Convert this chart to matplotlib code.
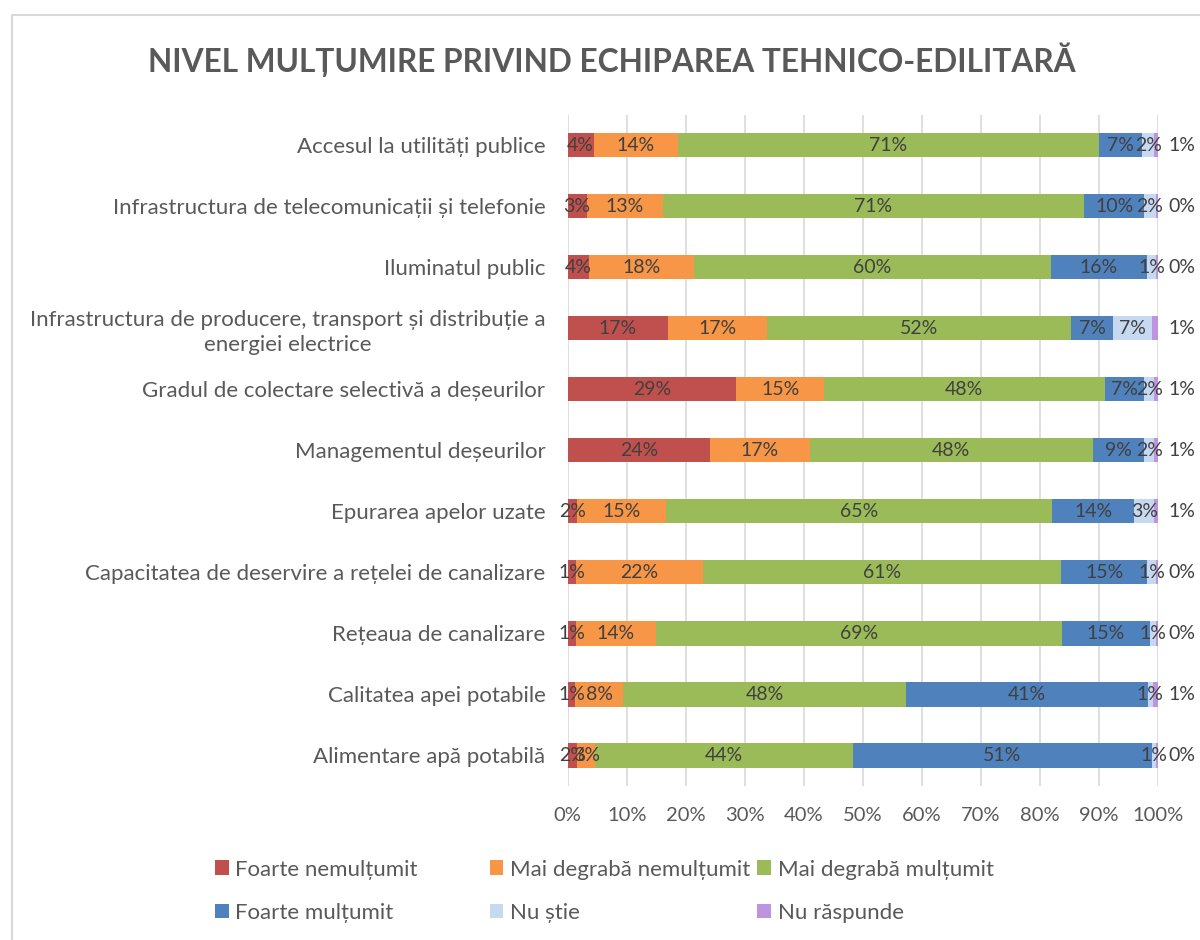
import numpy as np
import matplotlib
matplotlib.use("Agg")
import matplotlib.pyplot as plt
from matplotlib.patches import Rectangle

plt.rcParams["font.family"] = ["Lato", "Noto Sans", "DejaVu Sans"]

# ───────── date ─────────
categorii = [
    "Accesul la utilități publice",
    "Infrastructura de telecomunicații și telefonie",
    "Iluminatul public",
    "Infrastructura de producere, transport și distribuție a\nenergiei electrice",
    "Gradul de colectare selectivă a deșeurilor",
    "Managementul deșeurilor",
    "Epurarea apelor uzate",
    "Capacitatea de deservire a rețelei de canalizare",
    "Rețeaua de canalizare",
    "Calitatea apei potabile",
    "Alimentare apă potabilă",
]
serii = [
    "Foarte nemulțumit",
    "Mai degrabă nemulțumit",
    "Mai degrabă mulțumit",
    "Foarte mulțumit",
    "Nu știe",
    "Nu răspunde",
]
foarte_nemultumit = [4.4, 3.2, 3.7, 17.0, 28.6, 24.1, 1.6, 1.4, 1.4, 1.3, 1.6]
degraba_nemultumit = [14.3, 12.9, 17.7, 16.7, 14.8, 16.9, 15.0, 21.6, 13.6, 8.1, 3.1]
degraba_multumit = [71.3, 71.3, 60.4, 51.6, 47.6, 48.0, 65.4, 60.6, 68.7, 48.0, 43.6]
foarte_multumit = [7.3, 10.2, 16.4, 7.1, 6.7, 8.7, 14.0, 14.6, 15.0, 40.9, 50.6]
nu_stie = [2.1, 1.9, 1.4, 6.6, 1.7, 1.6, 3.4, 1.4, 0.9, 0.8, 0.7]
nu_raspunde = [0.6, 0.4, 0.4, 1.0, 0.6, 0.7, 0.6, 0.4, 0.4, 0.9, 0.4]

culori = ["#C0504D", "#F79646", "#9BBB59", "#4F81BD", "#C6D9F1", "#BF94DE"]
valori = np.array([foarte_nemultumit, degraba_nemultumit, degraba_multumit,
                   foarte_multumit, nu_stie, nu_raspunde])
valori = valori / valori.sum(axis=0) * 100

# ───────── grafic ─────────
fig = plt.figure(figsize=(12, 9.4), dpi=100)
ax = fig.add_axes([0.473, 0.164, 0.492, 0.714])

y = np.arange(len(categorii))
stanga = np.zeros(len(categorii))
bare_serii = []
for i, (nume, culoare) in enumerate(zip(serii, culori)):
    bare = ax.barh(y, valori[i], left=stanga, height=0.4, color=culoare,
                   label=nume, zorder=3)
    bare_serii.append(bare)
    for j, v in enumerate(valori[i]):
        txt = f"{v:.0f}%"
        if i == len(serii) - 1:
            # ultima serie: eticheta in afara barei
            ax.text(101.8, y[j], txt, ha="left", va="center",
                    fontsize=14, color="#404040", zorder=4)
        else:
            ax.text(stanga[j] + v / 2, y[j], txt, ha="center", va="center",
                    fontsize=14, color="#404040", zorder=4)
    stanga += valori[i]

ax.set_xlim(0, 100)
ax.set_ylim(len(categorii) - 0.5, -0.5)
ax.set_xticks(np.arange(0, 101, 10))
ax.set_xticklabels([f"{t}%" for t in range(0, 101, 10)], fontsize=14.5)
ax.set_yticks(y)
ax.set_yticklabels(categorii, multialignment="center", fontsize=16,
                   linespacing=1.3)
ax.tick_params(axis="both", length=0, colors="#595959")
ax.tick_params(axis="x", pad=15)
ax.tick_params(axis="y", pad=16)
ax.grid(axis="x", color="#D9D9D9", linewidth=1.2, zorder=0)
for s in ax.spines.values():
    s.set_visible(False)

fig.text(0.51, 0.936, "NIVEL MULȚUMIRE PRIVIND ECHIPAREA TEHNICO-EDILITARĂ",
         ha="center", va="center", fontsize=22.8, fontweight="bold",
         color="#595959")

# legenda: 3 coloane egale, ordonate pe randuri
leg_x = [0.179, 0.408, 0.631]
leg_y = [0.075, 0.029]
for k, (bare, nume) in enumerate(zip(bare_serii, serii)):
    lg = fig.legend([bare], [nume], loc="center left",
                    bbox_to_anchor=(leg_x[k % 3], leg_y[k // 3]),
                    frameon=False, fontsize=16, labelcolor="#595959",
                    handlelength=0.62, handleheight=0.62, handletextpad=0.3,
                    borderpad=0, borderaxespad=0)

# chenarul graficului
fig.patches.append(Rectangle((0.01, -0.1), 1.2, 1.084, transform=fig.transFigure,
                             fill=False, edgecolor="#D9D9D9", linewidth=1.5))

fig.savefig("out.png", dpi=100)
